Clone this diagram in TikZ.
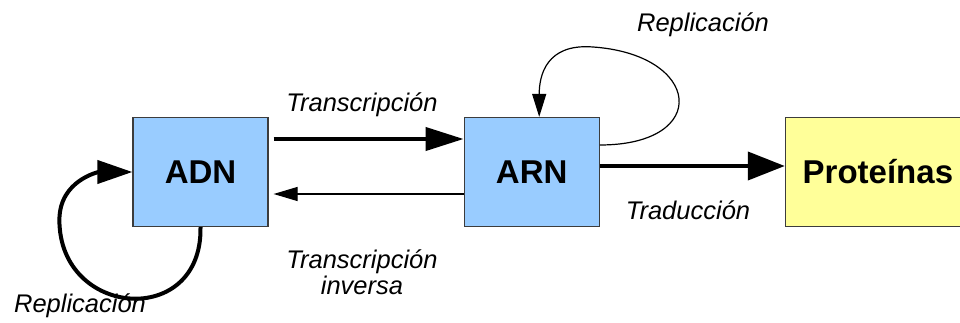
\documentclass[tikz,border=0pt]{standalone}
\usepackage{fontspec}
\setmainfont{Liberation Sans}
\usetikzlibrary{
  positioning,
  arrows.meta,
  calc,
}
\definecolor{cNucleic} {HTML}{99CCFF}
\definecolor{cProtein} {HTML}{FFFF99}
\definecolor{cBorder}  {HTML}{3C3C3C}
\definecolor{cText}    {HTML}{000000}

\begin{document}
\begin{tikzpicture}[
  x=1pt, y=1pt,
  every node/.style={align=center, text=cText},
  %
  molbox/.style={
    draw=cBorder, fill=#1, line width=1.2pt,
    inner sep=0pt,
    minimum width=135pt, minimum height=109pt,
    font=\fontsize{33}{39}\selectfont\bfseries,
  },
  steplbl/.style={font=\fontsize{25.5}{26}\selectfont\itshape},
  bigarr/.style={-{Triangle[length=38pt, width=23pt]}, line width=4pt, draw=cText},
  smallarr/.style={-{Triangle[length=24pt, width=14pt]}, line width=1.2pt, draw=cText},
]
\useasboundingbox (0,0) rectangle (960,322);

% ────────────── MOLECULES ──────────────────────────────────────────────────
\node[molbox=cNucleic]                          (adn)  at (200.5,150) {ADN};
\node[molbox=cNucleic, right=195pt of adn]      (arn)  {ARN};
\node[molbox=cProtein, minimum width=185pt,
      right=185pt of arn]                       (prot) {Proteínas};

% ────────────── LOOP WAYPOINTS ─────────────────────────────────────────────
\coordinate (arntop)  at ($(arn.north)+(60,70)$);
\coordinate (adnleft) at ($(adn.west)+(-73,-48)$);

% ────────────── ARROWS — ADN <-> ARN ───────────────────────────────────────
\draw[bigarr]   ($(adn.east)+(5,33)$)  -- ($(arn.west)+(0,33)$);
\draw[smallarr] ($(arn.west)+(0,-22)$) -- ($(adn.east)+(5,-22)$);

% ────────────── ARROW — ARN -> Proteínas ───────────────────────────────────
\draw[bigarr, -{Triangle[length=37pt, width=28pt]}]
  ($(arn.east)+(0,6)$) -- ($(prot.west)+(0,6)$);

% ────────────── REPLICATION LOOPS ──────────────────────────────────────────
\draw[smallarr, -{Triangle[length=23pt, width=14pt]}]
  ($(arn.east)+(0,27)$) .. controls +(112,0) and +(110,-7) .. (arntop)
  .. controls +(-45,3) and +(0,42) .. ($(arn.north)+(7.5,0)$);
\draw[bigarr, -{Triangle[length=35pt, width=23pt]}]
  (adn.south) .. controls +(2,-102) and +(0,-98) .. (adnleft)
  .. controls +(0,40) and +(-33,0) .. (adn.west);

% ────────────── LABELS ─────────────────────────────────────────────────────
\node[steplbl] (ltrans) at (362,217) {Transcripción};
\node[steplbl] (linv)   at (362,50)  {Transcripción\\inversa};
\node[steplbl] (ltrad)  at (688,112) {Traducción};
\node[steplbl] (lrepr)  at (703,297) {Replicación};
\node[steplbl] (lrepd)  at (80,16)   {Replicación};

\end{tikzpicture}
\end{document}
